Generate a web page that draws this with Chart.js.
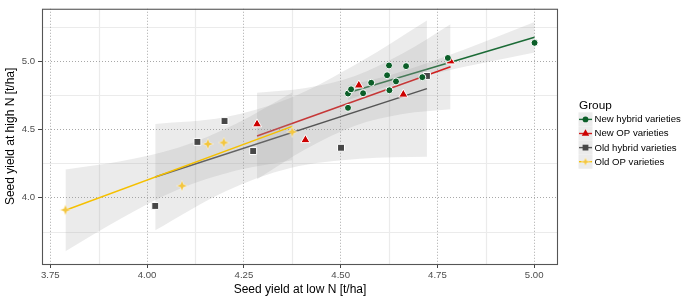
<!DOCTYPE html>
<html><head><meta charset="utf-8">
<script src="https://cdn.jsdelivr.net/npm/chart.js@4.4.1/dist/chart.umd.min.js"></script>
<style>html,body{margin:0;padding:0;background:#fff;} #wrap{width:686px;height:300px;position:relative;}</style>
</head><body><div id="wrap"><canvas id="c" width="686" height="300"></canvas></div>
<script>
// ---------- data ----------
const groups = ['New hybrid varieties','New OP varieties','Old hybrid varieties','Old OP varieties'];

// points
const nhX = [4.519,4.519,4.527,4.558,4.579,4.625,4.620,4.626,4.643,4.669,4.711,4.777,5.001];
const nhY = [4.658,4.763,4.794,4.765,4.842,4.969,4.897,4.787,4.852,4.964,4.883,5.024,5.135];
const nopX = [4.284,4.409,4.547,4.662,4.784];
const nopY = [4.538,4.422,4.823,4.756,5.000];
const ohX = [4.021,4.130,4.200,4.274,4.501,4.723];
const ohY = [3.938,4.408,4.561,4.341,4.365,4.892];
const oopX = [3.789,4.090,4.157,4.198,4.375];
const oopY = [3.909,4.086,4.393,4.403,4.482];

// fitted lines (endpoints)
const nhLineX = [4.519,5.001],  nhLineY = [4.768,5.176];
const nopLineX = [4.284,4.784], nopLineY = [4.451,4.960];
const ohLineX = [4.021,4.723],  ohLineY = [4.150,4.799];
const oopLineX = [3.789,4.375], oopLineY = [3.906,4.522];

// confidence bands
const nhBandX = [4.519,4.64,4.76,4.88,5.001];
const nhBandHi = [4.821,4.908,5.023,5.152,5.288];
const nhBandLo = [4.715,4.833,4.921,4.994,5.064];
const nopBandX = [4.284,4.41,4.537,4.66,4.784];
const nopBandHi = [4.768,4.803,4.891,5.056,5.272];
const nopBandLo = [4.134,4.355,4.527,4.613,4.648];
const ohBandX = [4.021,4.2,4.37,4.55,4.723];
const ohBandHi = [4.540,4.589,4.730,4.994,5.299];
const ohBandLo = [3.760,4.043,4.216,4.284,4.299];
const oopBandX = [3.789,3.935,4.08,4.23,4.375];
const oopBandHi = [4.206,4.268,4.365,4.541,4.770];
const oopBandLo = [3.606,3.850,4.059,4.198,4.274];

// axes
const xTicks = [3.75,4.00,4.25,4.50,4.75,5.00];
const xTickLabels = ['3.75','4.00','4.25','4.50','4.75','5.00'];
const yTicks = [4.0,4.5,5.0];
const yTickLabels = ['4.0','4.5','5.0'];
const xMinor = [3.875,4.125,4.375,4.625,4.875];
const yMinor = [3.75,4.25,4.75,5.25];
const xRange = [3.7284,5.0616];
const yRange = [3.512,5.385];
const xTitle = 'Seed yield at low N [t/ha]';
const yTitle = 'Seed yield at high N [t/ha]';
const legendTitle = 'Group';

// ---------- styles ----------
const FONT = "'Liberation Sans', Arial, Helvetica, sans-serif";
const colPoint = ['#0B5E28','#CD0000','#474747','#F3C640'];
const colLine = ['#1B6B36','#D11F1F','#555555','#F5C000'];
const bandFill = 'rgba(153,153,153,0.2)';

function makeStar(color, size){
  const c = document.createElement('canvas'); c.width = size; c.height = size;
  const g = c.getContext('2d'); const m = size/2, R = size/2 - 0.5, r = R*0.4;
  g.beginPath();
  for (let k=0;k<8;k++){ const a=-Math.PI/2 + k*Math.PI/4; const rr = k%2===0?R:r; g.lineTo(m+rr*Math.cos(a), m+rr*Math.sin(a)); }
  g.closePath(); g.fillStyle = color; g.fill();
  g.strokeStyle = 'rgba(255,255,255,0.7)'; g.lineWidth = 0.6; g.stroke();
  return c;
}
const starImg = makeStar(colPoint[3], 12);
const starImgSmall = makeStar(colPoint[3], 10);

const pts = (xs, ys) => xs.map((x,i)=>({x, y: ys[i]}));
const pointStyles = ['circle','triangle','rect', starImg];
const pointRadii = [3.5, 5.3, 4.9, 5];

function pointDs(i, xs, ys){
  return { label: groups[i], data: pts(xs,ys), showLine:false, order:1,
    pointStyle: pointStyles[i], pointRadius: pointRadii[i],
    pointBackgroundColor: colPoint[i], pointBorderColor:'#ffffff', pointBorderWidth: i===3?0:1 };
}
function lineDs(i, xs, ys, order){
  return { label: groups[i]+' fit', data: pts(xs,ys), showLine:true, pointRadius:0,
    borderColor: colLine[i], borderWidth:1.5, fill:false, order };
}
function bandDs(xs, ys, isUpper, order){
  return { label:'band', data: pts(xs,ys), showLine:true, pointRadius:0,
    borderColor:'rgba(0,0,0,0)', borderWidth:0, backgroundColor: bandFill,
    fill: isUpper ? '+1' : false, cubicInterpolationMode:'monotone', order };
}

const datasets = [
  pointDs(0, nhX, nhY), pointDs(1, nopX, nopY), pointDs(2, ohX, ohY), pointDs(3, oopX, oopY),
  bandDs(nhBandX, nhBandHi, true, 9), bandDs(nhBandX, nhBandLo, false, 9), lineDs(0, nhLineX, nhLineY, 8),
  bandDs(nopBandX, nopBandHi, true, 7), bandDs(nopBandX, nopBandLo, false, 7), lineDs(1, nopLineX, nopLineY, 6),
  bandDs(ohBandX, ohBandHi, true, 5), bandDs(ohBandX, ohBandLo, false, 5), lineDs(2, ohLineX, ohLineY, 4),
  bandDs(oopBandX, oopBandHi, true, 3), bandDs(oopBandX, oopBandLo, false, 3), lineDs(3, oopLineX, oopLineY, 2)
];

const decor = {
  id:'decor',
  beforeDraw(chart){
    const {ctx, chartArea:a, scales:{x, y}} = chart;
    ctx.save();
    ctx.fillStyle = '#ffffff'; ctx.fillRect(0,0,chart.width,chart.height);
    ctx.strokeStyle = '#EBEBEB'; ctx.lineWidth = 1.2;
    xMinor.forEach(v=>{ const p = Math.round(x.getPixelForValue(v))+0.5; ctx.beginPath(); ctx.moveTo(p,a.top); ctx.lineTo(p,a.bottom); ctx.stroke(); });
    yMinor.forEach(v=>{ const p = Math.round(y.getPixelForValue(v))+0.5; ctx.beginPath(); ctx.moveTo(a.left,p); ctx.lineTo(a.right,p); ctx.stroke(); });
    ctx.restore();
  },
  afterDraw(chart){
    const {ctx, chartArea:a} = chart;
    ctx.save();
    // panel border
    ctx.strokeStyle = '#555555'; ctx.lineWidth = 1.1;
    ctx.strokeRect(a.left+0.5, a.top+0.5, a.right-a.left-1, a.bottom-a.top);
    // axis titles
    ctx.fillStyle = '#000'; ctx.font = '12px ' + FONT;
    ctx.textAlign = 'center'; ctx.textBaseline = 'middle';
    ctx.fillText(xTitle, (a.left+a.right)/2, 289.5);
    ctx.save(); ctx.translate(10.5, (a.top+a.bottom)/2); ctx.rotate(-Math.PI/2);
    ctx.fillText(yTitle, 0, 0); ctx.restore();
    // legend
    ctx.textAlign = 'left'; ctx.textBaseline = 'alphabetic';
    ctx.font = '11.8px ' + FONT;
    ctx.fillText(legendTitle, 579, 109);
    const rows = [119.4, 133.5, 147.6, 161.7];
    const kx = 578.5, kw = 14;
    ctx.font = '9.6px ' + FONT; ctx.textBaseline = 'middle';
    rows.forEach((ry, i)=>{
      ctx.fillStyle = '#EBEBEB'; ctx.fillRect(kx, ry-7.05, kw, 14.1);
      ctx.strokeStyle = colLine[i]; ctx.lineWidth = 1.4;
      ctx.beginPath(); ctx.moveTo(kx+0.5, ry); ctx.lineTo(kx+kw-0.5, ry); ctx.stroke();
      const cx = kx + kw/2;
      ctx.fillStyle = colPoint[i];
      ctx.beginPath();
      if (i===0){ ctx.arc(cx, ry, 2.9, 0, Math.PI*2); ctx.fill(); }
      else if (i===1){ const r=4.3; ctx.moveTo(cx, ry-r); ctx.lineTo(cx+r*0.866, ry+r/2); ctx.lineTo(cx-r*0.866, ry+r/2); ctx.closePath(); ctx.fill(); }
      else if (i===2){ ctx.fillRect(cx-2.9, ry-2.9, 5.8, 5.8); }
      else { ctx.drawImage(starImgSmall, cx-5, ry-5); }
      ctx.fillStyle = '#000';
      ctx.fillText(groups[i], 594.5, ry+0.3);
    });
    ctx.restore();
  }
};

new Chart(document.getElementById('c'), {
  type:'line',
  data:{ datasets },
  options:{
    responsive:false, animation:false, events:[],
    layout:{ padding:{ top:4, right:128, left:0, bottom:0 } },
    plugins:{ legend:{display:false}, tooltip:{enabled:false}, filler:{ propagate:false } },
    scales:{
      x:{ type:'linear', min:xRange[0], max:xRange[1],
        afterBuildTicks: s => { s.ticks = xTicks.map(v=>({value:v})); },
        afterFit: s => { s.height = 36; },
        ticks:{ callback:(v,i)=>xTickLabels[i], color:'#4D4D4D', font:{family:FONT, size:9.6}, padding:2, maxRotation:0, autoSkip:false },
        grid:{ color:'#A8A8A8', lineWidth:1, drawTicks:true, tickLength:4, tickColor:'#444444', tickWidth:1 },
        border:{ display:false, dash:[1,2] }
      },
      y:{ type:'linear', min:yRange[0], max:yRange[1],
        afterBuildTicks: s => { s.ticks = yTicks.map(v=>({value:v})); },
        afterFit: s => { s.width = 42; },
        ticks:{ callback:(v,i)=>yTickLabels[i], color:'#4D4D4D', font:{family:FONT, size:9.6}, padding:3, autoSkip:false },
        grid:{ color:'#A8A8A8', lineWidth:1, drawTicks:true, tickLength:4, tickColor:'#444444', tickWidth:1 },
        border:{ display:false, dash:[1,2] }
      }
    }
  },
  plugins:[decor]
});
</script>
</body></html>
